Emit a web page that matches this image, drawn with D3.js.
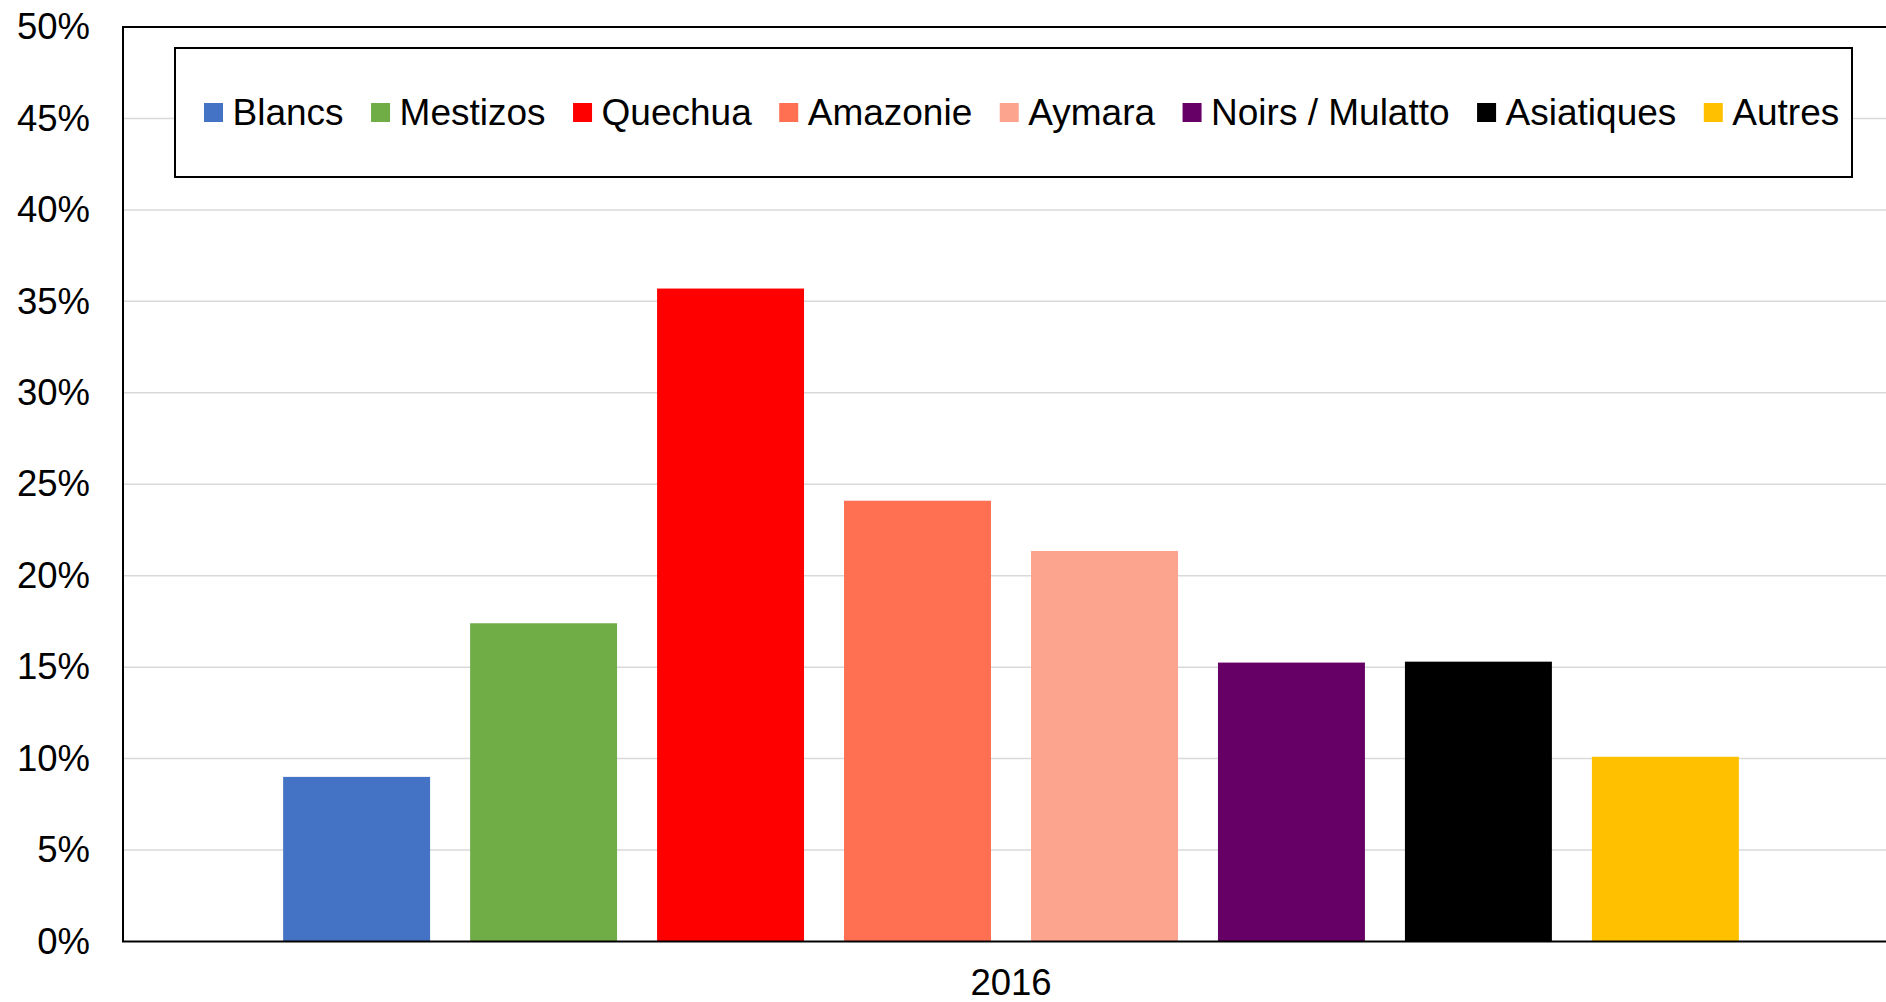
<!DOCTYPE html>
<html>
<head>
<meta charset="utf-8">
<script src="https://cdn.jsdelivr.net/npm/d3@7"></script>
<style>
  html, body { margin: 0; padding: 0; background: #fff; }
  svg { display: block; font-family: "Liberation Sans", Arial, sans-serif; }
</style>
</head>
<body>
<div id="chart"></div>
<script>
'use strict';

// data
var years = ['2016'];
var groups = ['Blancs', 'Mestizos', 'Quechua', 'Amazonie', 'Aymara', 'Noirs / Mulatto', 'Asiatiques', 'Autres'];
var values = [9.0, 17.4, 35.7, 24.1, 21.35, 15.25, 15.3, 10.1];
var colors = ['#4472C4', '#70AD47', '#FF0000', '#FF7053', '#FCA48E', '#660066', '#000000', '#FFC000'];
var yTicks = [0, 5, 10, 15, 20, 25, 30, 35, 40, 45, 50];

var width = 1886;
var height = 1002;
var margin = { top: 27, left: 123, bottom: 60.5 };
var plotW = 1776;
var plotH = height - margin.top - margin.bottom;

var svg = d3.select('#chart')
  .append('svg')
  .attr('width', width)
  .attr('height', height);

var g = svg.append('g')
  .attr('transform', 'translate(' + margin.left + ',' + margin.top + ')');

var y = d3.scaleLinear().domain([0, 50]).range([plotH, 0]);

var x0 = d3.scaleBand()
  .domain(years)
  .range([0, plotW])
  .paddingInner(0)
  .paddingOuter(0.11);

var x1 = d3.scaleBand()
  .domain(groups)
  .range([0, x0.bandwidth()])
  .paddingInner(0.214)
  .paddingOuter(0);

/* gridlines */
g.append('g')
  .selectAll('line')
  .data(yTicks.filter(function(d) { return d > 0 && d < 50; }))
  .enter()
  .append('line')
  .attr('x1', 0)
  .attr('x2', plotW)
  .attr('y1', function(d) { return y(d); })
  .attr('y2', function(d) { return y(d); })
  .style('stroke', '#D9D9D9')
  .style('stroke-width', 1.5);

/* bars */
var grp = g.selectAll('.year')
  .data(years)
  .enter()
  .append('g')
  .attr('transform', function(d) { return 'translate(' + x0(d) + ',0)'; });

grp.selectAll('rect')
  .data(groups)
  .enter()
  .append('rect')
  .attr('x', function(d) { return x1(d); })
  .attr('width', x1.bandwidth())
  .attr('y', function(d, i) { return y(values[i]); })
  .attr('height', function(d, i) { return plotH - y(values[i]); })
  .style('fill', function(d, i) { return colors[i]; });

/* plot border */
g.append('rect')
  .attr('x', 0)
  .attr('y', 0)
  .attr('width', plotW)
  .attr('height', plotH)
  .style('fill', 'none')
  .style('stroke', '#000')
  .style('stroke-width', 2);

/* y axis */
var yAxis = d3.axisLeft(y)
  .tickValues(yTicks)
  .tickSize(0)
  .tickPadding(33)
  .tickFormat(function(d) { return d + '%'; });

var ya = g.append('g').call(yAxis);
ya.select('.domain').remove();
ya.selectAll('text')
  .style('font-size', '36.5px')
  .style('font-family', '"Liberation Sans", Arial, sans-serif')
  .style('fill', '#000');

/* x axis */
var xAxis = d3.axisBottom(x0).tickSize(0).tickPadding(28);
var xa = g.append('g')
  .attr('transform', 'translate(0,' + plotH + ')')
  .call(xAxis);
xa.select('.domain').remove();
xa.selectAll('text')
  .style('font-size', '36.5px')
  .style('font-family', '"Liberation Sans", Arial, sans-serif')
  .style('fill', '#000');

/* legend */
var legend = svg.append('g');
legend.append('rect')
  .attr('x', 175)
  .attr('y', 48)
  .attr('width', 1677)
  .attr('height', 129)
  .style('fill', '#fff')
  .style('stroke', '#000')
  .style('stroke-width', 2);

var legendSize = 19;
var lx = 204;
groups.forEach(function(name, i) {
  var item = legend.append('g')
    .attr('transform', 'translate(' + lx + ',0)');
  item.append('rect')
    .attr('x', 0)
    .attr('y', 103)
    .attr('width', legendSize)
    .attr('height', legendSize)
    .style('fill', colors[i]);
  var t = item.append('text')
    .attr('x', 28.5)
    .attr('y', 125)
    .style('font-size', '37px')
    .style('fill', '#000')
    .text(name);
  lx += 28.5 + t.node().getComputedTextLength() + 27.5;
});
</script>
</body>
</html>
